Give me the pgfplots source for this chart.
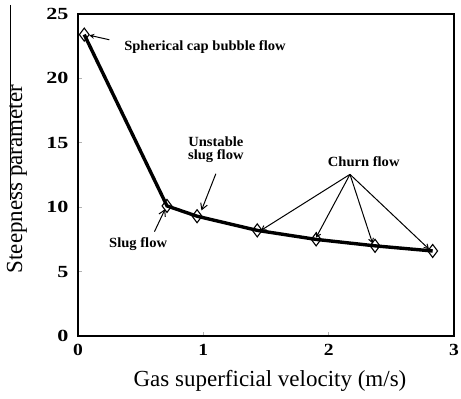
\documentclass[border=0pt]{standalone}
\usepackage{pgfplots}
\pgfplotsset{compat=1.18}
\usepackage{fontspec}
\setmainfont{Liberation Serif}
\usetikzlibrary{arrows.meta}

\pgfplotstableread{
x     y
0.05  23.4
0.71  10.1
0.95  9.3
1.43  8.2
1.90  7.5
2.37  7.0
2.83  6.6
}\steepness

\begin{document}
\begin{tikzpicture}[x=1pt,y=1pt]
\path[use as bounding box] (-78,-63) rectangle (383,336);
\begin{axis}[
  at={(0,0)}, anchor=south west,
  scale only axis, width=376pt, height=322pt,
  xmin=0, xmax=3, ymin=0, ymax=25,
  xtick={0,1,2,3}, ytick={0,5,10,15,20,25},
  tick align=inside, major tick length=4pt,
  tick style={gray!60, line width=0.6pt},
  xtick pos=bottom, ytick pos=left,
  axis line style={black, line width=1.4pt},
  ticklabel style={font=\fontsize{17}{18}\selectfont\bfseries},
  /pgf/number format/assume math mode=true,
  xticklabel style={yshift=-5pt, xscale=1.15},
  yticklabel style={xshift=-5pt, xscale=1.3},
  clip=false,
]
\addplot[black, line width=3.4pt, mark=diamond, mark size=6.5pt,
  mark options={black, fill=white, line width=1.1pt}] table[x=x,y=y] {\steepness};

% annotations
\begin{scope}[font=\fontsize{14}{15}\selectfont\bfseries]
\draw[-{Stealth[length=5pt,width=5pt,open]}, line width=1pt] (axis cs:0.25,23.0) -- (axis cs:0.09,23.35);
\node[anchor=west, xscale=1.04] at (axis cs:0.34,22.45) {Spherical cap bubble flow};

\draw[-{Straight Barb[length=6pt,width=7pt]}, line width=1pt] (axis cs:1.10,12.6) -- (axis cs:0.985,9.75);
\node[align=center, inner sep=0pt, xscale=1.04] at (axis cs:1.10,14.45) {Unstable\\[-2pt]slug flow};

\draw[-{Straight Barb[length=6pt,width=7pt]}, line width=1pt] (axis cs:0.61,8.1) -- (axis cs:0.695,9.85);
\node[xscale=1.04] at (axis cs:0.48,7.1) {Slug flow};

\node[xscale=1.04] at (axis cs:2.28,13.55) {Churn flow};
\draw[-{Straight Barb[length=4pt,width=5pt]}, line width=1pt] (axis cs:2.17,12.55) -- (axis cs:1.46,8.2);
\draw[-{Straight Barb[length=4pt,width=5pt]}, line width=1pt] (axis cs:2.17,12.55) -- (axis cs:1.90,7.65);
\draw[-{Straight Barb[length=4pt,width=5pt]}, line width=1pt] (axis cs:2.17,12.55) -- (axis cs:2.35,7.2);
\draw[-{Straight Barb[length=4pt,width=5pt]}, line width=1pt] (axis cs:2.17,12.55) -- (axis cs:2.80,6.75);
\end{scope}
\end{axis}
\draw[line width=0.8pt] (-68,331) -- (-68,136);
\node[rotate=90, font=\fontsize{23}{26}\selectfont] at (-61,157) {Steepness parameter};
\node[font=\fontsize{23}{26}\selectfont] at (192,-45) {Gas superficial velocity (m/s)};
\end{tikzpicture}
\end{document}
